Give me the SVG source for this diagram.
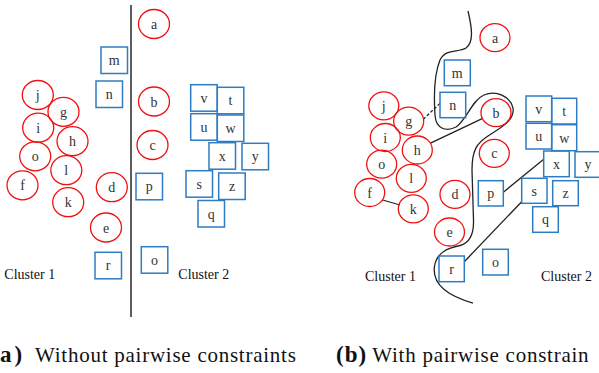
<svg xmlns="http://www.w3.org/2000/svg" width="599" height="373" viewBox="0 0 599 373">
<style>
.c{fill:none;stroke:#f01010;stroke-width:1.3}
.s{fill:none;stroke:#2f7cc2;stroke-width:1.5}
.t{font-family:"Liberation Serif",serif;font-size:14px;fill:#333;text-anchor:middle}
.cl{font-family:"Liberation Serif",serif;font-size:14px;fill:#111}
.cap{font-family:"Liberation Serif",serif;font-size:21px;fill:#111;letter-spacing:0.75px}
.capb{font-family:"Liberation Serif",serif;font-size:23px;fill:#111;font-weight:bold}
.ln{stroke:#222;stroke-width:1.3;fill:none}
</style>
<g id="panel-a">
<line id="divider" x1="131" y1="5" x2="131" y2="317" stroke="#333" stroke-width="1.6"/>
<g id="a1-a"><ellipse class="c" cx="154" cy="24" rx="15.5" ry="14.5"/><text class="t" x="154" y="29">a</text></g>
<g id="a1-b"><ellipse class="c" cx="154" cy="101.5" rx="15.5" ry="14.5"/><text class="t" x="154" y="106.5">b</text></g>
<g id="a1-c"><ellipse class="c" cx="152.5" cy="145" rx="15.5" ry="14.5"/><text class="t" x="152.5" y="150">c</text></g>
<g id="a1-d"><ellipse class="c" cx="111.8" cy="187.2" rx="15.5" ry="14.5"/><text class="t" x="111.8" y="192.2">d</text></g>
<g id="a1-e"><ellipse class="c" cx="106" cy="227.5" rx="15.5" ry="14.5"/><text class="t" x="106" y="232.5">e</text></g>
<g id="a1-f"><ellipse class="c" cx="22.5" cy="185.3" rx="15.5" ry="14.5"/><text class="t" x="22.5" y="190.3">f</text></g>
<g id="a1-g"><ellipse class="c" cx="63.5" cy="111.8" rx="15.5" ry="14.5"/><text class="t" x="63.5" y="116.8">g</text></g>
<g id="a1-h"><ellipse class="c" cx="72.5" cy="141.2" rx="15.5" ry="14.5"/><text class="t" x="72.5" y="146.2">h</text></g>
<g id="a1-i"><ellipse class="c" cx="38.2" cy="127.7" rx="15.5" ry="14.5"/><text class="t" x="38.2" y="132.7">i</text></g>
<g id="a1-j"><ellipse class="c" cx="37.8" cy="95" rx="15.5" ry="14.5"/><text class="t" x="37.8" y="100">j</text></g>
<g id="a1-k"><ellipse class="c" cx="68.2" cy="202.2" rx="15.5" ry="14.5"/><text class="t" x="68.2" y="207.2">k</text></g>
<g id="a1-l"><ellipse class="c" cx="66.3" cy="170.2" rx="15.5" ry="14.5"/><text class="t" x="66.3" y="175.2">l</text></g>
<g id="a1-o"><ellipse class="c" cx="35.2" cy="156.3" rx="15.5" ry="14.5"/><text class="t" x="35.2" y="161.3">o</text></g>
<g id="a1-m"><rect class="s" x="101" y="47" width="26.5" height="26.5"/><text class="t" x="114.2" y="65">m</text></g>
<g id="a1-n"><rect class="s" x="96" y="81" width="26.5" height="26.5"/><text class="t" x="109.2" y="99">n</text></g>
<g id="a1-r"><rect class="s" x="95" y="252.3" width="26.5" height="26.5"/><text class="t" x="108.2" y="270.3">r</text></g>
<g id="a1-p"><rect class="s" x="136" y="173.3" width="26.5" height="26.5"/><text class="t" x="149.2" y="191.3">p</text></g>
<g id="a1-o2"><rect class="s" x="141.3" y="246.7" width="26.5" height="26.5"/><text class="t" x="154.5" y="264.7">o</text></g>
<g id="a1-v"><rect class="s" x="190.7" y="84.7" width="26.5" height="26.5"/><text class="t" x="204" y="102.7">v</text></g>
<g id="a1-t"><rect class="s" x="217.3" y="87.3" width="26.5" height="26.5"/><text class="t" x="230.5" y="105.3">t</text></g>
<g id="a1-u"><rect class="s" x="190.7" y="113.7" width="26.5" height="26.5"/><text class="t" x="204" y="131.7">u</text></g>
<g id="a1-w"><rect class="s" x="217.3" y="115" width="26.5" height="26.5"/><text class="t" x="230.5" y="133">w</text></g>
<g id="a1-x"><rect class="s" x="209" y="142.7" width="26.5" height="26.5"/><text class="t" x="222.2" y="160.7">x</text></g>
<g id="a1-y"><rect class="s" x="242" y="143.3" width="26.5" height="26.5"/><text class="t" x="255.2" y="161.3">y</text></g>
<g id="a1-s"><rect class="s" x="186" y="170.7" width="26.5" height="26.5"/><text class="t" x="199.2" y="188.7">s</text></g>
<g id="a1-z"><rect class="s" x="218.7" y="173" width="26.5" height="26.5"/><text class="t" x="232" y="191">z</text></g>
<g id="a1-q"><rect class="s" x="198" y="200.5" width="26.5" height="26.5"/><text class="t" x="211.2" y="218.5">q</text></g>
<text class="cl" x="4.3" y="279">Cluster 1</text>
<text class="cl" x="178.3" y="279">Cluster 2</text>
</g>
<g id="panel-b">
<g id="connectors">
<path id="boundary" class="ln" d="M468,11 C472,28 474,42 466,48 C458,53 446,48 440,60 C434,75 434,100 435,115 C436,131 448,131 456,127 C466,121 472,100 484,95 C496,90 510,96 513,108 C515,121 500,128 488,136 C477,143 472,150 472,170 L473.5,220 C474,236 469,243 460,245.5 C448,248 437,252 434.5,266 C432,283 445,295 473,303"/>
<line class="ln" x1="423.3" y1="119.3" x2="440" y2="103.3" stroke-dasharray="3,2"/>
<line class="ln" x1="430" y1="143.3" x2="482.7" y2="118.3"/>
<line class="ln" x1="382.7" y1="200" x2="400" y2="205"/>
<line class="ln" x1="503.3" y1="192.3" x2="543.7" y2="159.3"/>
<line class="ln" x1="464.3" y1="261.7" x2="521.7" y2="201.7"/>
</g>
<g id="b1-a"><ellipse class="c" cx="495" cy="37.7" rx="15" ry="14"/><text class="t" x="495" y="42.7">a</text></g>
<g id="b1-b"><ellipse class="c" cx="496" cy="112.7" rx="15" ry="14"/><text class="t" x="496" y="117.7">b</text></g>
<g id="b1-c"><ellipse class="c" cx="494.3" cy="153.3" rx="15" ry="14"/><text class="t" x="494.3" y="158.3">c</text></g>
<g id="b1-d"><ellipse class="c" cx="455" cy="194.4" rx="15" ry="14"/><text class="t" x="455" y="199.4">d</text></g>
<g id="b1-e"><ellipse class="c" cx="449.5" cy="232" rx="15" ry="14"/><text class="t" x="449.5" y="237">e</text></g>
<g id="b1-f"><ellipse class="c" cx="369.7" cy="192.5" rx="15" ry="14"/><text class="t" x="369.7" y="197.5">f</text></g>
<g id="b1-g"><ellipse class="c" cx="408.7" cy="121.2" rx="15" ry="14"/><text class="t" x="408.7" y="126.2">g</text></g>
<g id="b1-h"><ellipse class="c" cx="417.3" cy="150" rx="15" ry="14"/><text class="t" x="417.3" y="155">h</text></g>
<g id="b1-i"><ellipse class="c" cx="385.3" cy="137.5" rx="15" ry="14"/><text class="t" x="385.3" y="142.5">i</text></g>
<g id="b1-j"><ellipse class="c" cx="383.8" cy="105.8" rx="15" ry="14"/><text class="t" x="383.8" y="110.8">j</text></g>
<g id="b1-k"><ellipse class="c" cx="413.3" cy="208.8" rx="15" ry="14"/><text class="t" x="413.3" y="213.8">k</text></g>
<g id="b1-l"><ellipse class="c" cx="411.3" cy="178.3" rx="15" ry="14"/><text class="t" x="411.3" y="183.3">l</text></g>
<g id="b1-o"><ellipse class="c" cx="381.7" cy="164.2" rx="15" ry="14"/><text class="t" x="381.7" y="169.2">o</text></g>
<g id="b1-m"><rect class="s" x="444.3" y="60" width="26" height="25.7"/><text class="t" x="457.3" y="77.5">m</text></g>
<g id="b1-n"><rect class="s" x="440" y="92.3" width="25.7" height="25.4"/><text class="t" x="452.8" y="109.5">n</text></g>
<g id="b1-v"><rect class="s" x="526" y="96" width="25.7" height="25.7"/><text class="t" x="538.8" y="113.5">v</text></g>
<g id="b1-t"><rect class="s" x="551.7" y="98.3" width="25" height="25.7"/><text class="t" x="564.2" y="115.8">t</text></g>
<g id="b1-u"><rect class="s" x="526" y="123.3" width="25.7" height="25.7"/><text class="t" x="538.8" y="140.8">u</text></g>
<g id="b1-w"><rect class="s" x="551.7" y="124.7" width="25" height="26"/><text class="t" x="564.2" y="142.5">w</text></g>
<g id="b1-x"><rect class="s" x="543.7" y="151" width="25.6" height="25.7"/><text class="t" x="556.5" y="168.5">x</text></g>
<g id="b1-y"><rect class="s" x="575" y="151.7" width="26" height="25.6"/><text class="t" x="588" y="169.2">y</text></g>
<g id="b1-p"><rect class="s" x="478.3" y="180.7" width="25" height="25.3"/><text class="t" x="490.8" y="198">p</text></g>
<g id="b1-s"><rect class="s" x="521.7" y="178.3" width="25.3" height="25"/><text class="t" x="534.3" y="195.5">s</text></g>
<g id="b1-z"><rect class="s" x="552.7" y="180.7" width="25.6" height="25"/><text class="t" x="565.5" y="198">z</text></g>
<g id="b1-q"><rect class="s" x="532.7" y="206.7" width="25.6" height="25.6"/><text class="t" x="545.5" y="224">q</text></g>
<g id="b1-r"><rect class="s" x="439" y="256" width="25.3" height="25.7"/><text class="t" x="451.7" y="273.5">r</text></g>
<g id="b1-o2"><rect class="s" x="482.7" y="249.3" width="25.6" height="25.7"/><text class="t" x="495.5" y="266.8">o</text></g>
<text class="cl" x="365" y="281">Cluster 1</text>
<text class="cl" x="541" y="281">Cluster 2</text>
</g>
<g id="captions">
<text class="capb" x="-10.7" y="362" letter-spacing="3">(a)</text>
<text class="cap" x="35" y="362">Without pairwise constraints</text>
<text class="capb" x="336" y="362" letter-spacing="1">(b)</text>
<text class="cap" x="372.3" y="362" letter-spacing="1.25">With pairwise constrain</text>
</g>
</svg>
